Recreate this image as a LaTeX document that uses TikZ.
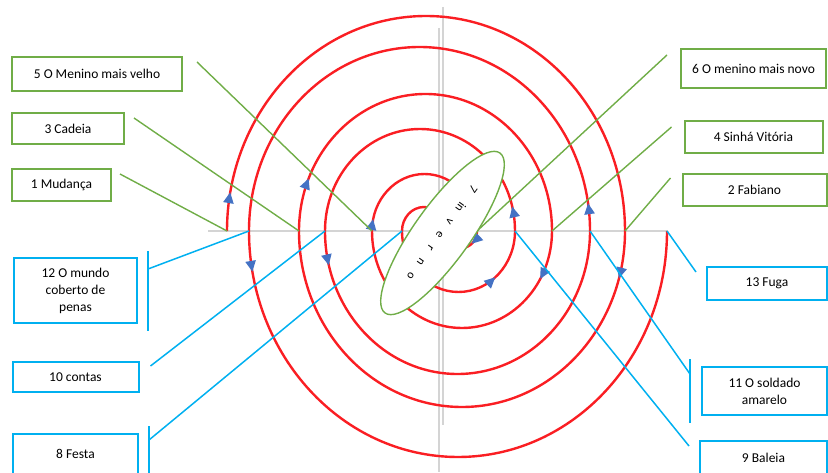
\documentclass[tikz,border=0pt]{standalone}
\usepackage{fontspec}
\setmainfont{Carlito}
\usetikzlibrary{positioning,shapes.geometric,arrows.meta,decorations.markings}

\definecolor{spiralred}{RGB}{250,30,35}
\definecolor{boxgreen}{RGB}{112,173,71}
\definecolor{boxblue}{RGB}{0,176,240}
\definecolor{tipblue}{RGB}{68,114,196}
\definecolor{axisgray}{RGB}{212,212,212}

\newcommand{\wsp}{\hspace{11pt}}

\begin{document}
\begin{tikzpicture}[x=1pt, y=1pt, font=\fontsize{13.5}{17}\selectfont,
	gbox/.style={rectangle, draw=boxgreen, line width=2pt, align=center, inner sep=2pt},
	bbox/.style={rectangle, draw=boxblue, line width=2pt, align=center, inner sep=2pt},
	gline/.style={draw=boxgreen, line width=1.4pt},
	bline/.style={draw=boxblue, line width=1.5pt},
	coil/.style={draw=spiralred, line width=2.4pt},
	turn/.style={coil, postaction={decorate},
		decoration={markings, mark=at position #1 with {\arrow{Triangle[length=11pt,width=10pt,color=tipblue]}}}}]
	
	\useasboundingbox (0,0) rectangle (828,472);
	
	% crossings of the spiral with the axis
	\coordinate (l1) at (227,241);
	\coordinate (l2) at (249,241);
	\coordinate (l3) at (299,241);
	\coordinate (l4) at (325,241);
	\coordinate (l5) at (372,241);
	\coordinate (l6) at (402,241);
	\coordinate (r1) at (667,241);
	\coordinate (r2) at (625,241);
	\coordinate (r3) at (590,241);
	\coordinate (r4) at (552,241);
	\coordinate (r5) at (515,241);
	\coordinate (r6) at (477,241);
	\coordinate (mid) at (446,241);
	
	\draw[axisgray, line width=2pt] (208,241) -- (668,241);
	\draw[axisgray, line width=1.5pt] (443,465) -- (443,47);
	\draw[axisgray, line width=1.5pt] (439,444) -- (439,0);
	
	% spiral, inwards then outwards
	\draw[turn=0.06] (l1) arc[start angle=180, end angle=0, x radius=199, y radius=215];
	\draw[turn=0.09] (r2) arc[start angle=0, end angle=-180, x radius=163, y radius=176];
	\draw[turn=0.13] (l3) arc[start angle=180, end angle=0, x radius=126.5, y radius=137];
	\draw[turn=0.17] (r4) arc[start angle=0, end angle=-180, x radius=90, y radius=97];
	\draw[turn=0.07] (l5) arc[start angle=180, end angle=0, x radius=52.5, y radius=57];
	\draw[turn=0.28] (r6) arc[start angle=0, end angle=-180, x radius=15.5, y radius=17];
	\draw[coil] (mid) arc[start angle=0, end angle=180, x radius=22, y radius=24];
	\draw[turn=0.72] (l6) arc[start angle=180, end angle=360, x radius=56.5, y radius=61];
	\draw[turn=0.08] (r5) arc[start angle=0, end angle=180, x radius=95, y radius=102];
	\draw[turn=0.08] (l4) arc[start angle=180, end angle=360, x radius=132.5, y radius=143];
	\draw[turn=0.05] (r3) arc[start angle=0, end angle=180, x radius=170.5, y radius=184];
	\draw[turn=0.06] (l2) arc[start angle=180, end angle=360, x radius=209, y radius=226];
	
	\node[gbox, minimum width=170pt, minimum height=34pt] (velho) at (97,398) {5 O Menino mais velho};
	\node[gbox, minimum width=112pt, minimum height=31pt, below right=20pt and 0pt of velho.south west] (cadeia) {3 Cadeia};
	\node[gbox, minimum width=99pt, minimum height=32pt, below right=23pt and 0pt of cadeia.south west] (mudanca) {1 Mudança};
	
	\node[gbox, minimum width=145pt, minimum height=39pt] (novo) at (753.5,403.5) {6 O menino mais novo};
	\node[gbox, minimum width=138pt, minimum height=32pt, below=31pt of novo] (sinha) {4 Sinhá Vitória};
	\node[gbox, minimum width=144pt, minimum height=32pt, below=19pt of sinha, xshift=1pt] (fabiano) {2 Fabiano};
	
	\node[bbox, minimum width=123pt, minimum height=65pt] (mundo) at (75.5,181.5) {12 O mundo\\coberto de\\penas};
	\node[bbox, minimum width=126pt, minimum height=30pt, below=37pt of mundo] (contas) {10 contas};
	\node[bbox, minimum width=125pt, minimum height=40pt, below=40pt of contas] (festa) {8 Festa};
	
	\node[bbox, minimum width=120pt, minimum height=33pt] (fuga) at (767,188.5) {13 Fuga};
	\node[bbox, minimum width=125pt, minimum height=48pt, below=65pt of fuga, xshift=-2.5pt] (soldado) {11 O soldado\\amarelo};
	\node[bbox, minimum width=127pt, minimum height=34pt, below=24pt of soldado, xshift=-1pt] (baleia) {9 Baleia};
	
	\draw[gline] ([shift={(14,-6)}]velho.north east) -- (l5);
	\draw[gline] ([shift={(9,-6)}]cadeia.north east) -- (l3);
	\draw[gline] ([shift={(8,-6)}]mudanca.north east) -- (l1);
	\draw[gline] ([shift={(-13,-7)}]novo.north west) -- (r6);
	\draw[gline] ([shift={(-12,-7)}]sinha.north west) -- (r4);
	\draw[gline] ([shift={(-11,-5)}]fabiano.north west) -- (r2);
	
	\draw[bline] ([shift={(10,6)}]mundo.north east) -- ([shift={(10,-7)}]mundo.south east);
	\draw[bline] ([shift={(10,-12)}]mundo.north east) -- (l2);
	\draw[bline] ([shift={(11,-5)}]contas.north east) -- (l4);
	\draw[bline] ([shift={(10,7)}]festa.north east) -- ([shift={(10,-4)}]festa.south east);
	\draw[bline] ([shift={(10,-7)}]festa.north east) -- (l6);
	\draw[bline] ([shift={(-10,-6)}]fuga.north west) -- (r1);
	\draw[bline] ([shift={(-11,7)}]soldado.north west) -- ([shift={(-11,-7)}]soldado.south west);
	\draw[bline] ([shift={(-11,-8)}]soldado.north west) -- (r3);
	\draw[bline] ([shift={(-10,-6)}]baleia.north west) -- (r5);
	
	\node[ellipse, draw=boxgreen, line width=1.4pt, fill=white, minimum width=197pt, minimum height=56pt,
		inner sep=0pt, rotate=-125.7, font=\fontsize{12}{14}\selectfont] (inverno) at (442.5,239)
		{7\wsp\hspace{3pt}in\wsp v\wsp e\wsp r\wsp n\wsp o};
	
\end{tikzpicture}
\end{document}
